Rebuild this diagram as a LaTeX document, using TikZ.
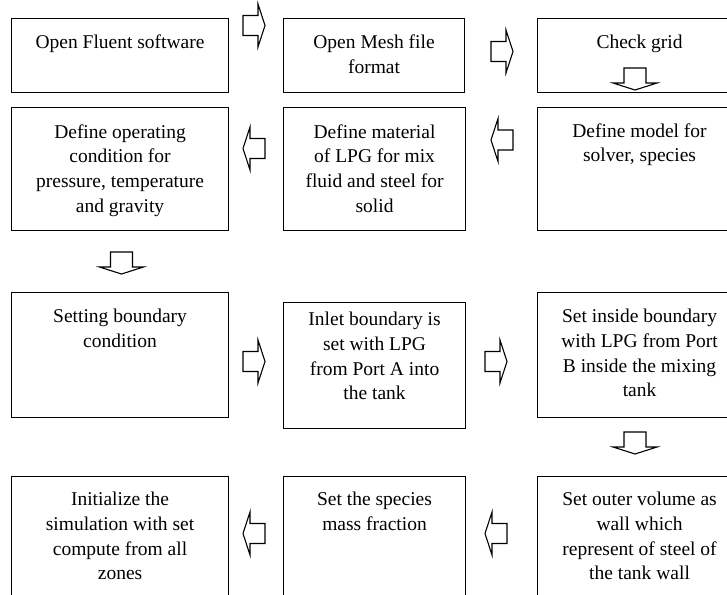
\documentclass[tikz,border=0pt]{standalone}
\usepackage{fontspec}
\setmainfont{Liberation Serif}
\begin{document}
\begin{tikzpicture}[x=1pt,y=-1pt,
  box/.style={draw, line width=1.1pt, inner sep=0pt, anchor=north west},
  txt/.style={anchor=north, align=center, inner sep=0pt, font=\fontsize{19.5}{24.8}\selectfont},
  arrowline/.style={draw, line width=1.1pt, line join=miter, fill=white},
  rarrow/.pic={\path[arrowline] (0,-10) -- (15,-10) -- (15,-21.5) -- (22,0) -- (15,21.5) -- (15,10) -- (0,10) -- cycle;},
  larrow/.pic={\path[arrowline] (0,0) -- (7,-21.5) -- (7,-10) -- (22,-10) -- (22,10) -- (7,10) -- (7,21.5) -- cycle;},
  darrow/.pic={\path[arrowline] (-11,0) -- (11,0) -- (11,15) -- (22,15) -- (0,22) -- (-22,15) -- (-11,15) -- cycle;}
]
\useasboundingbox (0,0) rectangle (727,594);
\clip (0,0) rectangle (727,594);
% boxes
\node[box, minimum width=217pt, minimum height=74pt]  (b1)  at (11,18)   {};
\node[box, minimum width=181pt, minimum height=74pt]  (b2)  at (283,18)  {};
\node[box, minimum width=204pt, minimum height=74pt]  (b3)  at (537,18)  {};
\node[box, minimum width=217pt, minimum height=123pt] (b4)  at (11,107)  {};
\node[box, minimum width=182pt, minimum height=123pt] (b5)  at (283,107) {};
\node[box, minimum width=204pt, minimum height=123pt] (b6)  at (537,107) {};
\node[box, minimum width=217pt, minimum height=125pt] (b7)  at (11,292)  {};
\node[box, minimum width=182pt, minimum height=126pt] (b8)  at (283,302) {};
\node[box, minimum width=204pt, minimum height=125pt] (b9)  at (537,292) {};
\node[box, minimum width=217pt, minimum height=144pt] (b10) at (11,476)  {};
\node[box, minimum width=182pt, minimum height=144pt] (b11) at (283,476) {};
\node[box, minimum width=204pt, minimum height=144pt] (b12) at (537,476) {};
% texts
\node[txt] (t1)  at ([yshift=-16.7pt]b1.north)  {Open Fluent software};
\node[txt] (t2)  at ([yshift=-16.7pt]b2.north)  {Open Mesh file\\format};
\node[txt] (t3)  at ([yshift=-16.7pt]b3.north)  {Check grid};
\node[txt] (t4)  at ([yshift=-17.2pt]b4.north)  {Define operating\\condition for\\pressure, temperature\\and gravity};
\node[txt] (t5)  at ([yshift=-17.2pt]b5.north)  {Define material\\of LPG for mix\\fluid and steel for\\solid};
\node[txt] (t6)  at ([yshift=-16.2pt]b6.north)  {Define model for\\solver, species};
\node[txt] (t7)  at ([yshift=-16.7pt]b7.north)  {Setting boundary\\condition};
\node[txt] (t8)  at ([yshift=-9.7pt]b8.north)   {Inlet boundary is\\set with LPG\\from Port A into\\the tank};
\node[txt] (t9)  at ([yshift=-16.7pt]b9.north)  {Set inside boundary\\with LPG from Port\\B inside the mixing\\tank};
\node[txt] (t10) at ([yshift=-15.7pt]b10.north) {Initialize the\\simulation with set\\compute from all\\zones};
\node[txt] (t11) at ([yshift=-15.7pt]b11.north) {Set the species\\mass fraction};
\node[txt] (t12) at ([yshift=-15.7pt]b12.north) {Set outer volume as\\wall which\\represent of steel of\\the tank wall};
% block arrows
\pic at (243,25.5) {rarrow};
\pic at (491,51.5) {rarrow};
\pic at (243,148.5) {larrow};
\pic at (491,140) {larrow};
\pic at (243,361.5) {rarrow};
\pic at (485,361.5) {rarrow};
\pic at (243,533.5) {larrow};
\pic at (485,533.5) {larrow};
\pic at (635,68) {darrow};
\pic at (121.5,252) {darrow};
\pic at (635,432) {darrow};
\end{tikzpicture}
\end{document}
